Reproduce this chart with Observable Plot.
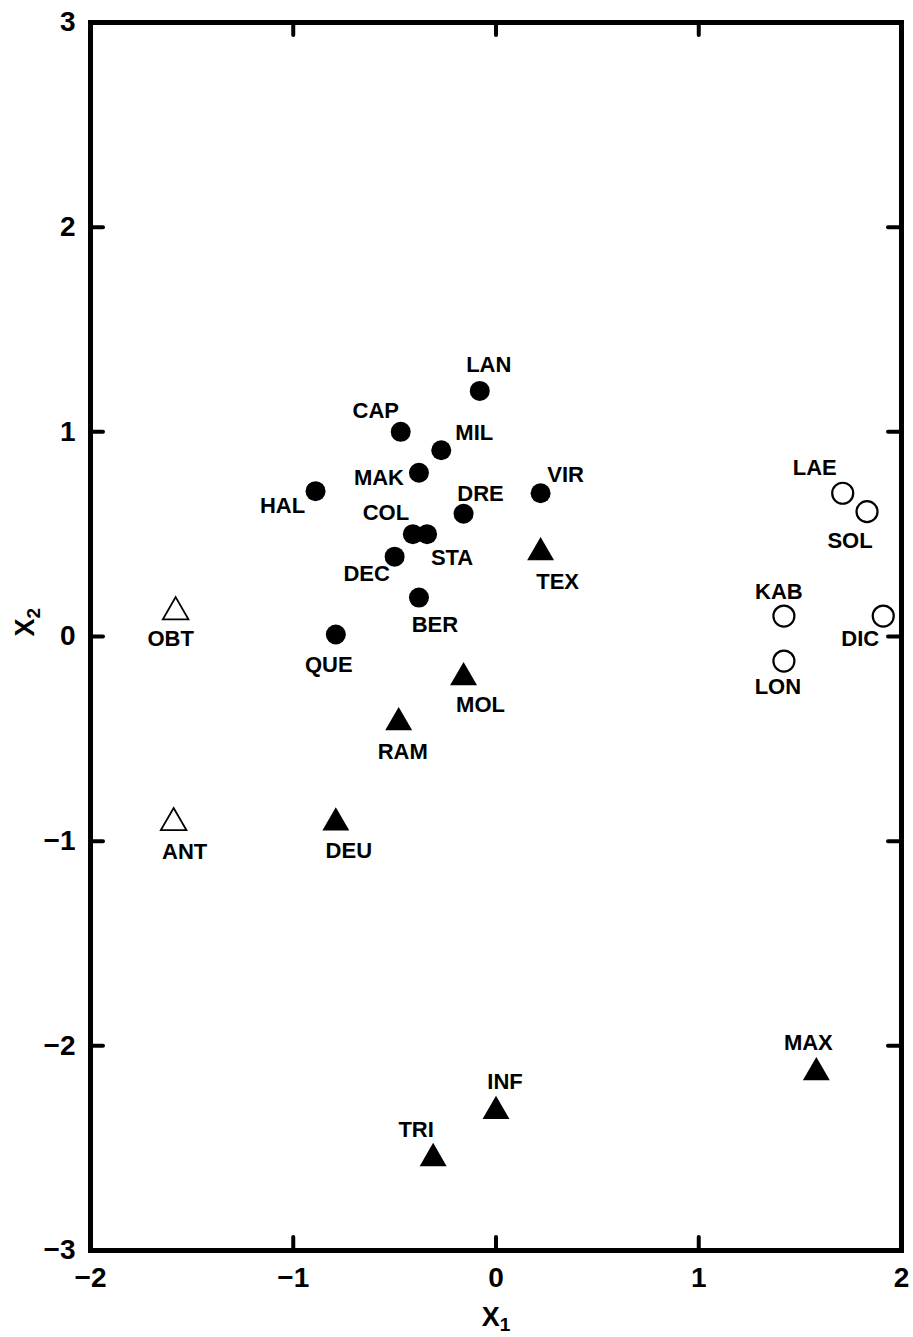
<!DOCTYPE html>
<html>
<head>
<meta charset="utf-8">
<script src="https://cdn.jsdelivr.net/npm/d3@7"></script>
<script src="https://cdn.jsdelivr.net/npm/@observablehq/plot@0.6"></script>
<style>
  html, body { margin: 0; padding: 0; background: #fff; }
  svg { display: block; }
</style>
</head>
<body>
<div id="chart"></div>
<script>
// ---- data ----
const names = ["LAN","CAP","MIL","MAK","HAL","DRE","VIR","COL","STA","DEC","BER","QUE",
               "TEX","MOL","RAM","DEU","INF","TRI","MAX",
               "LAE","SOL","KAB","DIC","LON",
               "OBT","ANT"];
const x1 = [-0.08,-0.47,-0.27,-0.38,-0.89,-0.16,0.22,-0.41,-0.34,-0.50,-0.38,-0.79,
            0.22,-0.16,-0.48,-0.79,0.00,-0.31,1.58,
            1.71,1.83,1.42,1.91,1.42,
            -1.58,-1.59];
const x2 = [1.20,1.00,0.91,0.80,0.71,0.60,0.70,0.50,0.50,0.39,0.19,0.01,
            0.41,-0.20,-0.42,-0.91,-2.32,-2.55,-2.13,
            0.70,0.61,0.10,0.10,-0.12,
            0.12,-0.91];
const groups = ["A","A","A","A","A","A","A","A","A","A","A","A",
                "B","B","B","B","B","B","B",
                "C","C","C","C","C",
                "D","D"];
const xTicks = [-2,-1,0,1,2];
const yTicks = [-3,-2,-1,0,1,2,3];
const innerXTicks = [-1,0,1];
const innerYTicks = [-2,-1,0,1,2];
const xLabel = ["X", "1"];
const yLabel = ["X", "2"];

const points = names.map((n,i) => ({name: n, x1: x1[i], x2: x2[i], group: groups[i]}));

// label placement relative to its marker (px)
const labelOffset = {
  LAN:[9,-26], CAP:[-25,-21], MIL:[33,-17], MAK:[-40,5], HAL:[-33,15], DRE:[17,-20],
  VIR:[25,-18], COL:[-27,-21], STA:[25,24], DEC:[-28,17], BER:[16,27], QUE:[-7,30],
  TEX:[17,29], MOL:[17,28], RAM:[4,29], DEU:[13,28], INF:[9,-29], TRI:[-17,-28], MAX:[-8,-29],
  LAE:[-28,-25], SOL:[-17,29], KAB:[-5,-24], DIC:[-23,23], LON:[-6,26],
  OBT:[-5,27], ANT:[11,29]
};

const W = 913, H = 1337, mL = 90, mR = 12, mT = 22, mB = 87;
const innerW = W - mL - mR, innerH = H - mT - mB;
const tickLen = 13;
const font = "'Liberation Sans', Arial, Helvetica, 'DejaVu Sans', sans-serif";
const fmt = d => (d < 0 ? "\u2212" : "") + Math.abs(d);

const byGroup = g => points.filter(d => d.group === g);

const labelMarks = points.map(d => Plot.text([d], {
  x: "x1", y: "x2", text: "name",
  dx: labelOffset[d.name][0], dy: labelOffset[d.name][1],
  fontSize: 22, fontWeight: "bold", fill: "black"
}));

const chart = Plot.plot({
  width: W, height: H,
  marginLeft: mL, marginRight: mR, marginTop: mT, marginBottom: mB,
  style: {fontFamily: font, background: "white", color: "black"},
  x: {domain: [-2, 2]},
  y: {domain: [-3, 3]},
  marks: [
    Plot.axisX({ticks: xTicks, tickFormat: fmt, tickSize: 0, tickPadding: 17, fontSize: 28, fontWeight: "bold", label: null}),
    Plot.axisY({ticks: yTicks, tickFormat: fmt, tickSize: 0, tickPadding: 15, fontSize: 28, fontWeight: "bold", label: null}),
    // inward ticks
    Plot.tickX(innerXTicks, {x: d => d, insetTop: innerH - tickLen, stroke: "black", strokeWidth: 4, strokeLinecap: "round"}),
    Plot.tickX(innerXTicks, {x: d => d, insetBottom: innerH - tickLen, stroke: "black", strokeWidth: 4, strokeLinecap: "round"}),
    Plot.tickY(innerYTicks, {y: d => d, insetRight: innerW - tickLen, stroke: "black", strokeWidth: 4, strokeLinecap: "round"}),
    Plot.tickY(innerYTicks, {y: d => d, insetLeft: innerW - tickLen, stroke: "black", strokeWidth: 4, strokeLinecap: "round"}),
    Plot.frame({stroke: "black", strokeWidth: 5}),
    // markers
    Plot.dot(byGroup("A"), {x: "x1", y: "x2", r: 10, fill: "black", stroke: "none", symbol: "circle"}),
    Plot.dot(byGroup("B"), {x: "x1", y: "x2", r: 10, fill: "black", stroke: "none", symbol: "triangle"}),
    Plot.dot(byGroup("C"), {x: "x1", y: "x2", r: 10.5, fill: "white", stroke: "black", strokeWidth: 2.2, symbol: "circle"}),
    Plot.dot(byGroup("D"), {x: "x1", y: "x2", r: 9.5, fill: "white", stroke: "black", strokeWidth: 1.8, symbol: "triangle"}),
    ...labelMarks,
    // axis titles (subscript added below)
    Plot.text([xLabel.join("")], {text: d => d, frameAnchor: "bottom", dy: 75, fontSize: 27, fontWeight: "bold", className: "axis-title"}),
    Plot.text([yLabel.join("")], {text: d => d, frameAnchor: "left", dx: -65, rotate: -90, fontSize: 27, fontWeight: "bold", className: "axis-title"})
  ]
});

// turn "X1"/"X2" into X with a subscript digit
d3.select(chart).selectAll("g.axis-title text").each(function() {
  const t = d3.select(this);
  const s = t.text();
  t.text(null);
  t.append("tspan").text(s[0]);
  t.append("tspan").attr("font-size", 19).attr("dy", "0.3em").text(s.slice(1));
});

document.getElementById("chart").appendChild(chart);
</script>
</body>
</html>
